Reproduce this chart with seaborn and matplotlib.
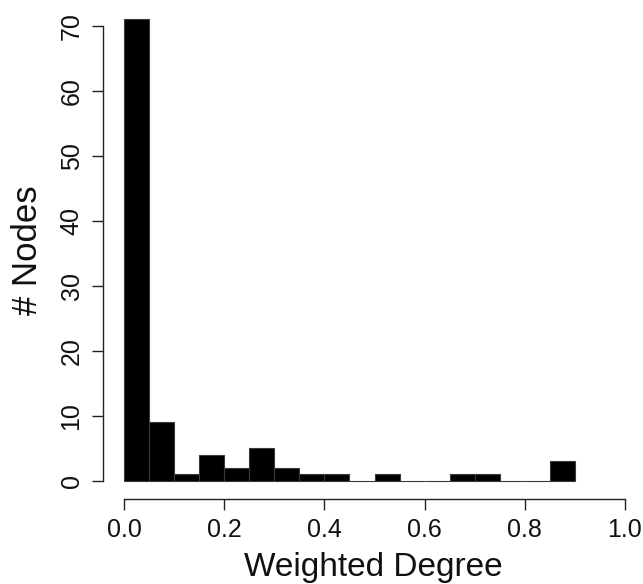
import numpy as np
import pandas as pd
import matplotlib
matplotlib.use("Agg")
import matplotlib.pyplot as plt
import seaborn as sns

# histogram of weighted degree, bins of width 0.05
BIN_EDGES = [0.0, 0.05, 0.1, 0.15, 0.2, 0.25, 0.3, 0.35, 0.4, 0.45,
             0.5, 0.55, 0.6, 0.65, 0.7, 0.75, 0.8, 0.85, 0.9]
COUNTS = [71, 9, 1, 4, 2, 5, 2, 1, 1, 0, 1, 0, 0, 1, 1, 0, 0, 3]
X_TICKS = [0.0, 0.2, 0.4, 0.6, 0.8, 1.0]
Y_TICKS = [0, 10, 20, 30, 40, 50, 60, 70]

centers = [(a + b) / 2 for a, b in zip(BIN_EDGES[:-1], BIN_EDGES[1:])]
df = pd.DataFrame({"degree": centers, "n": COUNTS})

sns.set_style("ticks")
plt.rcParams["font.family"] = ["Liberation Sans", "DejaVu Sans"]

fig = plt.figure(figsize=(6.43, 5.84), dpi=100)
ax = fig.add_axes([103 / 643, 85 / 584, 540 / 643, 498 / 584])

sns.histplot(data=df, x="degree", weights="n", bins=BIN_EDGES, ax=ax,
             color="black", alpha=1, edgecolor="#3a3a3a", linewidth=0.8)

ax.set_xlim(-0.042, 1.036)
ax.set_ylim(-2.84, 73.84)
ax.set_xticks(X_TICKS)
ax.set_xticklabels([f"{t:.1f}" for t in X_TICKS])
ax.set_yticks(Y_TICKS)
ax.set_yticklabels([str(t) for t in Y_TICKS], rotation=90, va="center")

for s in ("top", "right"):
    ax.spines[s].set_visible(False)
ax.spines["left"].set_bounds(0, 70)
ax.spines["bottom"].set_bounds(0, 1.0)
for s in ("left", "bottom"):
    ax.spines[s].set_color("#222222")
    ax.spines[s].set_linewidth(1.0)

ax.tick_params(axis="both", length=8, width=1.0, color="#222222",
               labelsize=18, labelcolor="#111111", pad=6)

ax.set_xlabel("Weighted Degree", fontsize=24, labelpad=7, color="#111111")
ax.set_ylabel("# Nodes", fontsize=25, labelpad=11, color="#111111")

plt.savefig("out.png", dpi=100, facecolor="white")
plt.close()
